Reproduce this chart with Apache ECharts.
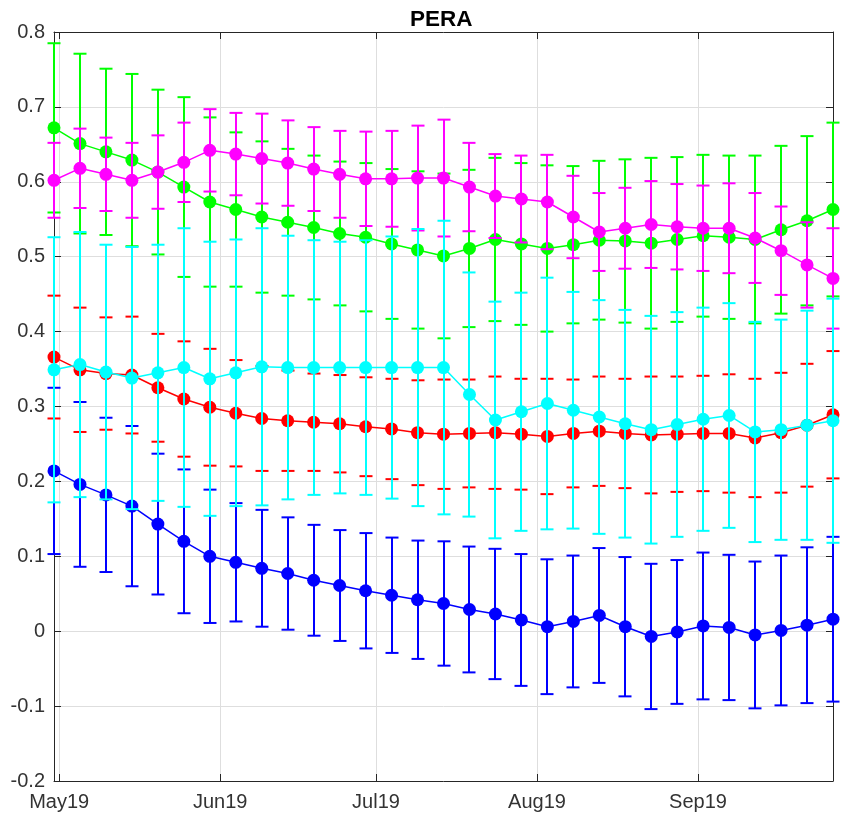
<!DOCTYPE html>
<html>
<head>
<meta charset="utf-8">
<script src="https://cdn.jsdelivr.net/npm/echarts@6/dist/echarts.min.js"></script>
<style>
html,body{margin:0;padding:0;background:#fff;}
#chart{width:846px;height:816px;}
</style>
</head>
<body>
<div id="chart"></div>
<script>
// ---- Data ----
const dates = ["2019-04-30","2019-05-05","2019-05-10","2019-05-15","2019-05-20","2019-05-25","2019-05-30",
  "2019-06-04","2019-06-09","2019-06-14","2019-06-19","2019-06-24","2019-06-29","2019-07-04","2019-07-09",
  "2019-07-14","2019-07-19","2019-07-24","2019-07-29","2019-08-03","2019-08-08","2019-08-13","2019-08-18",
  "2019-08-23","2019-08-28","2019-09-02","2019-09-07","2019-09-12","2019-09-17","2019-09-22","2019-09-27"];

const greenMean = [0.672,0.651,0.640,0.629,0.613,0.593,0.573,0.563,0.553,0.546,0.539,0.531,0.526,0.517,0.509,0.501,0.511,0.523,0.517,0.511,0.516,0.522,0.521,0.518,0.523,0.528,0.526,0.523,0.536,0.548,0.563];
const greenErr  = [0.113,0.120,0.111,0.115,0.110,0.120,0.113,0.103,0.101,0.098,0.096,0.096,0.099,0.100,0.105,0.110,0.105,0.109,0.108,0.111,0.105,0.106,0.109,0.114,0.110,0.108,0.109,0.112,0.112,0.113,0.116];

const magentaMean = [0.602,0.618,0.610,0.602,0.613,0.626,0.642,0.637,0.631,0.625,0.617,0.610,0.604,0.604,0.605,0.605,0.593,0.581,0.577,0.573,0.553,0.533,0.538,0.543,0.540,0.538,0.538,0.525,0.508,0.489,0.471];
const magentaErr  = [0.050,0.053,0.049,0.050,0.049,0.053,0.055,0.055,0.060,0.057,0.056,0.058,0.063,0.064,0.070,0.078,0.059,0.056,0.058,0.063,0.055,0.052,0.054,0.058,0.057,0.057,0.060,0.060,0.059,0.057,0.067];

const redMean = [0.366,0.349,0.344,0.342,0.325,0.310,0.299,0.291,0.284,0.281,0.279,0.277,0.273,0.270,0.265,0.263,0.264,0.265,0.263,0.260,0.264,0.267,0.264,0.262,0.263,0.264,0.264,0.258,0.265,0.275,0.289];
const redErr  = [0.082,0.083,0.075,0.078,0.072,0.077,0.078,0.071,0.070,0.067,0.065,0.065,0.066,0.067,0.070,0.073,0.072,0.075,0.074,0.077,0.072,0.073,0.073,0.078,0.077,0.077,0.079,0.079,0.080,0.082,0.085];

const cyanMean = [0.349,0.356,0.346,0.338,0.345,0.352,0.337,0.345,0.353,0.352,0.352,0.352,0.352,0.352,0.352,0.352,0.316,0.282,0.293,0.304,0.295,0.286,0.277,0.269,0.276,0.283,0.288,0.266,0.269,0.275,0.281];
const cyanErr  = [0.177,0.177,0.170,0.175,0.171,0.186,0.183,0.178,0.185,0.176,0.170,0.168,0.170,0.175,0.185,0.196,0.163,0.158,0.159,0.168,0.158,0.156,0.152,0.152,0.150,0.149,0.150,0.147,0.147,0.153,0.163];

const blueMean = [0.214,0.196,0.182,0.167,0.143,0.120,0.100,0.092,0.084,0.077,0.068,0.061,0.054,0.048,0.042,0.037,0.029,0.023,0.015,0.006,0.013,0.021,0.006,-0.007,-0.001,0.007,0.005,-0.005,0.001,0.008,0.016];
const blueErr  = [0.111,0.110,0.103,0.107,0.094,0.096,0.089,0.079,0.078,0.075,0.074,0.074,0.077,0.077,0.079,0.083,0.084,0.087,0.088,0.090,0.088,0.090,0.093,0.097,0.096,0.098,0.097,0.098,0.100,0.104,0.110];

const yTicks = {min: -0.2, max: 0.8, interval: 0.1};
const monthNames = ["Jan","Feb","Mar","Apr","May","Jun","Jul","Aug","Sep","Oct","Nov","Dec"];
const titleText = "PERA";

// ---- Build daily category axis from first to last date ----
function pad(n){return n<10?'0'+n:''+n;}
const days = [];
{
  const start = Date.parse(dates[0]+"T00:00:00Z");
  const end = Date.parse(dates[dates.length-1]+"T00:00:00Z");
  for (let t = start; t <= end; t += 86400000) {
    const d = new Date(t);
    days.push(d.getUTCFullYear()+'-'+pad(d.getUTCMonth()+1)+'-'+pad(d.getUTCDate()));
  }
}
const isMonthStart = (i, v) => v.slice(8) === '01';
const monthLabel = v => monthNames[parseInt(v.slice(5,7),10)-1] + v.slice(2,4);

const FONT = "'Liberation Sans', Arial, Helvetica, sans-serif";
const AX = '#262626';
const GRIDC = '#dedede';

const seriesDefs = [
  {name:'blue', color:'#0000ff', mean: blueMean, err: blueErr},
  {name:'red', color:'#ff0000', mean: redMean, err: redErr},
  {name:'green', color:'#00ff00', mean: greenMean, err: greenErr},
  {name:'magenta', color:'#ff00ff', mean: magentaMean, err: magentaErr},
  {name:'cyan', color:'#00ffff', mean: cyanMean, err: cyanErr}
];

const series = [];
let z = 2;
seriesDefs.forEach(s => {
  series.push({
    type: 'custom',
    name: s.name + '-err',
    xAxisIndex: 0, yAxisIndex: 0,
    z: z++,
    clip: false,
    encode: {x: 0, y: [1, 2]},
    data: dates.map((d, i) => [d, s.mean[i] - s.err[i], s.mean[i] + s.err[i]]),
    renderItem: function (params, api) {
      const xi = api.value(0);
      const lo = api.coord([xi, api.value(1)]);
      const hi = api.coord([xi, api.value(2)]);
      const x = Math.round(lo[0]);
      const w = 6.5;
      const st = {stroke: s.color, lineWidth: 2};
      return {
        type: 'group',
        children: [
          {type: 'line', shape: {x1: x, y1: lo[1], x2: x, y2: hi[1]}, style: st},
          {type: 'line', shape: {x1: x-w, y1: lo[1], x2: x+w, y2: lo[1]}, style: st},
          {type: 'line', shape: {x1: x-w, y1: hi[1], x2: x+w, y2: hi[1]}, style: st}
        ]
      };
    }
  });
  series.push({
    type: 'line',
    name: s.name,
    xAxisIndex: 0, yAxisIndex: 0,
    z: z++,
    clip: false,
    data: dates.map((d, i) => [d, s.mean[i]]),
    symbol: 'circle',
    symbolSize: 13,
    showSymbol: true,
    showAllSymbol: true,
    itemStyle: {color: s.color, borderWidth: 0},
    lineStyle: {color: s.color, width: 1.5},
    emphasis: {disabled: true}
  });
});

const yFmt = v => (Math.abs(v) < 1e-9 ? '0' : String(+v.toFixed(1)));

const option = {
  animation: false,
  backgroundColor: '#ffffff',
  title: {
    text: titleText,
    left: 410,
    top: 8,
    padding: 0,
    textStyle: {fontFamily: FONT, fontWeight: 'bold', fontSize: 22.5, color: '#000'}
  },
  grid: {left: 54, right: 13, top: 32, bottom: 35, containLabel: false},
  xAxis: [
    {
      type: 'category', data: days, boundaryGap: false, position: 'bottom',
      axisLine: {show: true, onZero: false, lineStyle: {color: AX, width: 1}},
      axisTick: {show: true, inside: true, length: 7, interval: isMonthStart, lineStyle: {color: AX, width: 1}},
      axisLabel: {show: true, interval: isMonthStart, formatter: monthLabel, fontFamily: FONT, fontSize: 20, color: '#333', margin: 11},
      splitLine: {show: true, interval: isMonthStart, lineStyle: {color: GRIDC, width: 1}}
    },
    {
      type: 'category', data: days, boundaryGap: false, position: 'top',
      axisLine: {show: true, onZero: false, lineStyle: {color: AX, width: 1}},
      axisTick: {show: true, inside: true, length: 7, interval: isMonthStart, lineStyle: {color: AX, width: 1}},
      axisLabel: {show: false},
      splitLine: {show: false}
    }
  ],
  yAxis: [
    {
      type: 'value', min: yTicks.min, max: yTicks.max, interval: yTicks.interval, position: 'left',
      axisLine: {show: true, onZero: false, lineStyle: {color: AX, width: 1}},
      axisTick: {show: true, inside: true, length: 7, lineStyle: {color: AX, width: 1}},
      axisLabel: {show: true, formatter: yFmt, fontFamily: FONT, fontSize: 20, color: '#333', margin: 9},
      splitLine: {show: true, lineStyle: {color: GRIDC, width: 1}}
    },
    {
      type: 'value', min: yTicks.min, max: yTicks.max, interval: yTicks.interval, position: 'right',
      axisLine: {show: true, onZero: false, lineStyle: {color: AX, width: 1}},
      axisTick: {show: true, inside: true, length: 7, lineStyle: {color: AX, width: 1}},
      axisLabel: {show: false},
      splitLine: {show: false}
    }
  ],
  series: series
};

const chart = echarts.init(document.getElementById('chart'), null, {renderer: 'canvas'});
chart.setOption(option);
</script>
</body>
</html>
